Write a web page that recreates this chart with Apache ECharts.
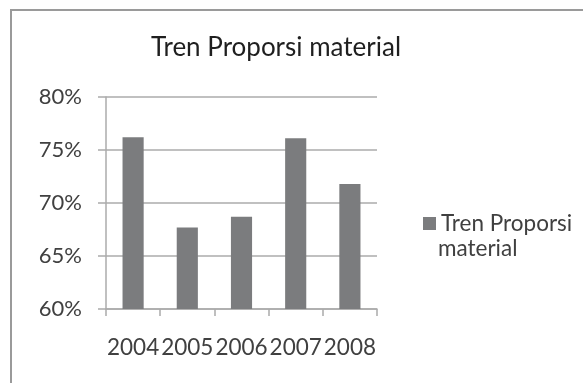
<!DOCTYPE html>
<html>
<head>
<meta charset="utf-8">
<script src="https://cdn.jsdelivr.net/npm/echarts@6/dist/echarts.min.js"></script>
<style>
  html, body { margin: 0; padding: 0; background: #ffffff; }
  #chart { width: 583px; height: 383px; }
</style>
</head>
<body>
<div id="chart"></div>
<script>
// Proportion of material per year (percent)
const years = ['2004', '2005', '2006', '2007', '2008'];
const proporsi = [76.2, 67.7, 68.7, 76.1, 71.8];
const yTicks = [60, 65, 70, 75, 80];
const seriesName = 'Tren Proporsi material';
// legend label is wrapped over two lines
const legendLines = ['Tren Proporsi', 'material'];

const FONT = 'Lato';
const TEXT = '#404040';
const LINE = '#ababab';
const BAR = '#7b7c7e';

const chart = echarts.init(document.getElementById('chart'), null, { renderer: 'canvas' });

chart.setOption({
  backgroundColor: '#ffffff',
  animation: false,
  graphic: [
    {
      type: 'rect',
      shape: { x: 11, y: 10, width: 700, height: 500 },
      style: { fill: 'none', stroke: '#9a9a9a', lineWidth: 2 },
      silent: true
    },
    {
      // second line of the legend entry, under the first one
      type: 'text',
      left: 438,
      top: 237,
      style: { text: legendLines[1], font: '22.5px ' + FONT, fill: TEXT },
      silent: true
    }
  ],
  title: {
    text: seriesName,
    left: 271,
    top: 30,
    textAlign: 'center',
    textStyle: { fontFamily: FONT, fontSize: 26, fontWeight: 'normal', color: '#1f1f1f' }
  },
  legend: {
    left: 418,
    top: 207,
    orient: 'vertical',
    icon: 'rect',
    itemWidth: 13,
    itemHeight: 13,
    data: [seriesName],
    formatter: function () { return legendLines[0]; },
    textStyle: { fontFamily: FONT, fontSize: 22.5, color: TEXT }
  },
  grid: { left: 106, right: 206, top: 97, bottom: 74, containLabel: false },
  xAxis: {
    type: 'category',
    data: years,
    boundaryGap: true,
    axisLine: { lineStyle: { color: LINE, width: 1.5 } },
    axisTick: { show: true, alignWithLabel: false, length: 7, lineStyle: { color: LINE, width: 1.5 } },
    axisLabel: { fontFamily: FONT, fontSize: 22.5, color: TEXT, margin: 27, interval: 0 }
  },
  yAxis: {
    type: 'value',
    min: yTicks[0],
    max: yTicks[yTicks.length - 1],
    interval: 5,
    axisLine: { show: true, lineStyle: { color: LINE, width: 1.5 } },
    axisTick: { show: true, length: 8, lineStyle: { color: LINE, width: 1.5 } },
    splitLine: { show: true, lineStyle: { color: LINE, width: 1.5 } },
    axisLabel: {
      fontFamily: FONT, fontSize: 22, color: TEXT, margin: 24,
      formatter: function (v) { return v + '%'; }
    }
  },
  series: [{
    name: seriesName,
    type: 'bar',
    data: proporsi,
    barWidth: '39%',
    itemStyle: { color: BAR }
  }]
});
</script>
</body>
</html>
